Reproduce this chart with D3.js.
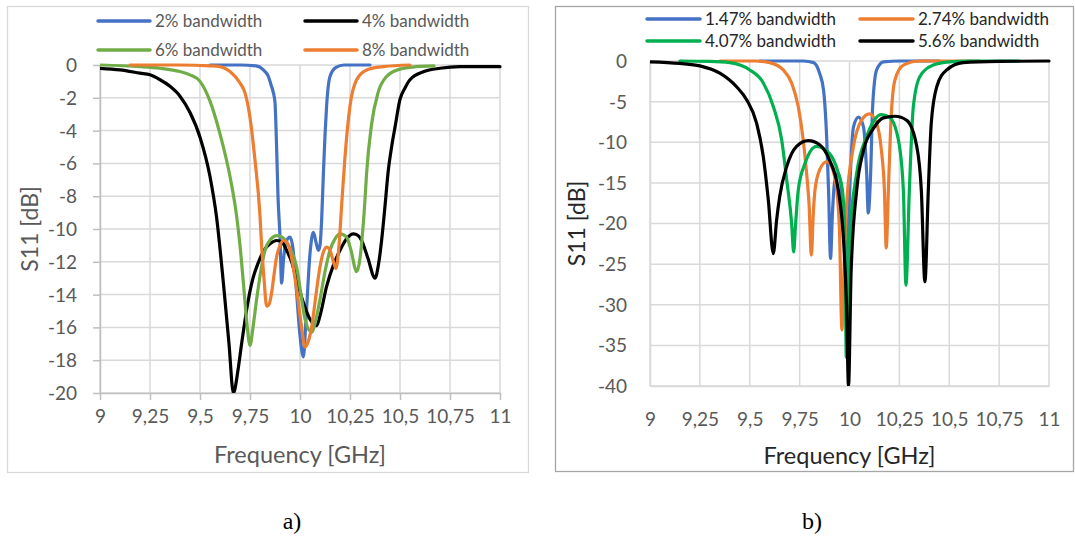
<!DOCTYPE html>
<html>
<head>
<meta charset="utf-8">
<script src="https://cdn.jsdelivr.net/npm/d3@7"></script>
<style>
  body { margin: 0; background: #fff; }
  text { font-family: Lato, "Open Sans", sans-serif; }
  text.caption { font-family: "Liberation Serif", "DejaVu Serif", serif; }
</style>
</head>
<body>
<svg id="chart" width="1075" height="538"></svg>
<script>
// ---- shared axis ticks ----
const freqTicks = [9, 9.25, 9.5, 9.75, 10, 10.25, 10.5, 10.75, 11];
const freqTickLabels = ["9", "9,25", "9,5", "9,75", "10", "10,25", "10,5", "10,75", "11"];
const dbTicksA = [0, -2, -4, -6, -8, -10, -12, -14, -16, -18, -20];
const dbTicksB = [0, -5, -10, -15, -20, -25, -30, -35, -40];

// ---- panel a) : S11 for 2 %, 4 %, 6 %, 8 % bandwidth ----
const namesA = ["2% bandwidth", "4% bandwidth", "6% bandwidth", "8% bandwidth"];

const freqA2 = [9.55, 9.70, 9.78, 9.817, 9.842, 9.855, 9.867, 9.875, 9.883, 9.89, 9.90, 9.908, 9.918, 9.93, 9.95, 9.965, 9.983, 10.0, 10.017, 10.03, 10.05, 10.067, 10.08, 10.092, 10.10, 10.108, 10.117, 10.125, 10.133, 10.15, 10.18, 10.22, 10.35];
const s11A2  = [0, 0, -0.05, -0.3, -0.7, -1.2, -1.7, -2.3, -5.0, -8.0, -10.5, -13.3, -11.8, -10.8, -10.5, -11.2, -13.9, -16.5, -17.8, -15.5, -11.5, -10.2, -10.8, -11.3, -11.0, -9.5, -6.6, -4.3, -2.5, -0.7, -0.15, 0, 0];

const freqA4 = [9.0, 9.1, 9.2, 9.25, 9.3, 9.35, 9.4, 9.45, 9.5, 9.55, 9.583, 9.617, 9.645, 9.667, 9.69, 9.708, 9.742, 9.765, 9.79, 9.82, 9.85, 9.883, 9.91, 9.933, 9.958, 9.983, 10.017, 10.05, 10.083, 10.1, 10.133, 10.167, 10.2, 10.233, 10.267, 10.29, 10.308, 10.34, 10.375, 10.392, 10.408, 10.425, 10.44, 10.458, 10.475, 10.5, 10.525, 10.55, 10.62, 10.7, 10.8, 11.0];
const s11A4  = [-0.2, -0.3, -0.5, -0.6, -0.9, -1.3, -1.9, -2.9, -4.4, -6.8, -9.3, -13.3, -17.0, -20.0, -18.6, -17.0, -14.3, -13.0, -12.1, -11.3, -10.9, -10.7, -10.8, -11.3, -12.0, -13.1, -14.5, -15.5, -15.9, -15.3, -13.5, -12.2, -11.3, -10.6, -10.3, -10.4, -10.7, -11.8, -13.0, -12.2, -10.7, -8.6, -6.6, -5.0, -3.8, -2.1, -1.4, -0.9, -0.4, -0.2, -0.1, -0.1];

const freqA6 = [9.0, 9.2, 9.3, 9.4, 9.45, 9.5, 9.55, 9.6, 9.65, 9.683, 9.7, 9.717, 9.735, 9.75, 9.765, 9.783, 9.805, 9.825, 9.855, 9.883, 9.91, 9.933, 9.958, 9.983, 10.005, 10.025, 10.058, 10.08, 10.1, 10.125, 10.15, 10.175, 10.2, 10.233, 10.255, 10.283, 10.3, 10.308, 10.325, 10.333, 10.358, 10.39, 10.433, 10.5, 10.58, 10.67];
const s11A6  = [0, -0.1, -0.2, -0.4, -0.6, -1.0, -2.2, -4.2, -6.8, -9.2, -11.0, -13.3, -15.8, -17.1, -16.0, -14.3, -12.5, -11.3, -10.6, -10.4, -10.5, -10.8, -11.4, -12.3, -14.0, -15.5, -16.3, -15.5, -14.3, -12.6, -11.3, -10.6, -10.3, -10.5, -11.3, -12.6, -11.8, -10.9, -8.2, -6.6, -3.6, -1.7, -0.7, -0.25, -0.1, -0.05];

const freqA8 = [9.15, 9.4, 9.55, 9.6, 9.65, 9.7, 9.725, 9.75, 9.775, 9.8, 9.808, 9.82, 9.833, 9.845, 9.858, 9.87, 9.883, 9.9, 9.917, 9.933, 9.95, 9.97, 9.99, 10.008, 10.025, 10.04, 10.058, 10.08, 10.1, 10.117, 10.133, 10.15, 10.165, 10.18, 10.195, 10.208, 10.225, 10.25, 10.283, 10.333, 10.417, 10.55];
const s11A8  = [0, 0, -0.05, -0.1, -0.4, -1.1, -1.7, -3.2, -5.8, -9.2, -11.0, -13.0, -14.7, -14.6, -13.9, -12.8, -11.7, -11.0, -10.7, -10.8, -11.3, -12.6, -14.3, -16.0, -17.2, -16.9, -16.0, -14.0, -12.3, -11.4, -11.1, -11.3, -11.9, -12.4, -11.0, -8.6, -5.6, -2.5, -0.9, -0.3, -0.1, 0];

// ---- panel b) : S11 for 1.47 %, 2.74 %, 4.07 %, 5.6 % bandwidth ----
const namesB = ["1.47% bandwidth", "2.74% bandwidth", "4.07% bandwidth", "5.6% bandwidth"];

const freqB147 = [9.55, 9.77, 9.82, 9.85, 9.87, 9.886, 9.895, 9.905, 9.914, 9.925, 9.944, 9.96, 9.975, 9.985, 9.995, 10.005, 10.02, 10.045, 10.07, 10.086, 10.094, 10.106, 10.116, 10.136, 10.17, 10.25, 10.45];
const s11B147  = [0, 0, -0.2, -1.5, -3.6, -9.7, -15.9, -24.3, -19.0, -15.0, -13.8, -16.0, -22.0, -26.0, -20.0, -13.5, -8.1, -6.9, -8.1, -13.8, -18.7, -13.8, -5.6, -1.1, -0.1, 0, 0];

const freqB274 = [9.35, 9.53, 9.6, 9.668, 9.71, 9.743, 9.768, 9.785, 9.797, 9.809, 9.818, 9.827, 9.85, 9.886, 9.91, 9.936, 9.95, 9.962, 9.972, 9.985, 10.02, 10.06, 10.1, 10.136, 10.16, 10.175, 10.184, 10.195, 10.207, 10.228, 10.27, 10.35, 10.65];
const s11B274  = [0, 0, -0.2, -1.1, -2.7, -5.6, -9.7, -13.8, -17.5, -23.9, -19.0, -15.9, -13.4, -12.4, -13.0, -15.9, -21.0, -33.1, -26.0, -17.9, -10.5, -7.3, -6.5, -7.7, -11.0, -15.9, -23.0, -15.9, -7.7, -2.3, -0.5, 0, 0];

const freqB407 = [9.15, 9.3, 9.4, 9.5, 9.568, 9.618, 9.66, 9.685, 9.71, 9.72, 9.73, 9.743, 9.777, 9.835, 9.9, 9.944, 9.965, 9.977, 9.984, 9.992, 10.0, 10.036, 10.086, 10.16, 10.2, 10.245, 10.27, 10.283, 10.3, 10.32, 10.353, 10.42, 10.5, 10.6, 10.85];
const s11B407  = [0, -0.05, -0.2, -1.1, -2.7, -5.6, -9.7, -14.6, -20.0, -23.5, -20.0, -15.9, -12.6, -10.5, -11.4, -13.8, -16.0, -22.0, -36.5, -27.0, -22.0, -13.8, -9.3, -6.6, -6.9, -9.7, -15.9, -27.6, -15.9, -5.6, -1.9, -0.5, -0.1, 0, 0];

const freqB56 = [9.0, 9.15, 9.25, 9.35, 9.435, 9.485, 9.535, 9.568, 9.593, 9.618, 9.635, 9.65, 9.685, 9.735, 9.793, 9.85, 9.9, 9.944, 9.97, 9.985, 9.995, 10.008, 10.036, 10.07, 10.12, 10.17, 10.228, 10.287, 10.337, 10.36, 10.378, 10.395, 10.41, 10.437, 10.487, 10.57, 10.75, 11.0];
const s11B56  = [-0.1, -0.3, -0.6, -1.5, -3.2, -4.8, -7.7, -11.8, -17.1, -23.7, -19.5, -16.7, -13.0, -10.5, -9.8, -10.3, -12.2, -15.9, -22.0, -30.0, -40.0, -26.0, -15.9, -11.0, -8.3, -7.0, -6.8, -7.3, -10.5, -15.9, -27.2, -15.9, -7.6, -3.2, -1.1, -0.2, -0.05, 0];

// ---- drawing ----
const svg = d3.select("#chart");

const zip = (fs, vs) => fs.map((f, i) => ({ f: f, v: vs[i] }));

function drawPanel(p) {
  const g = svg.append("g");

  // outer frame
  g.append("rect")
    .attr("x", p.frame[0] + 0.5).attr("y", p.frame[1] + 0.5)
    .attr("width", p.frame[2] - p.frame[0]).attr("height", p.frame[3] - p.frame[1])
    .attr("fill", "#fff").attr("stroke", p.frameColor).attr("stroke-width", 1.3);

  const x = d3.scaleLinear().domain([9, 11]).range([p.x0, p.x1]);
  const y = d3.scaleLinear().domain([p.yTicks[p.yTicks.length - 1], 0]).range([p.y1, p.y0]);

  // gridlines
  g.append("g").selectAll("line").data(freqTicks).join("line")
    .attr("x1", d => x(d)).attr("x2", d => x(d))
    .attr("y1", p.y0).attr("y2", p.y1)
    .attr("stroke", "#d9d9d9").attr("stroke-width", 1.5);
  g.append("g").selectAll("line").data(p.yTicks).join("line")
    .attr("x1", p.x0).attr("x2", p.x1)
    .attr("y1", d => y(d)).attr("y2", d => y(d))
    .attr("stroke", "#d9d9d9").attr("stroke-width", 1.5);

  // axes
  const xAxis = d3.axisBottom(x).tickValues(freqTicks)
    .tickFormat((d, i) => freqTickLabels[i])
    .tickSize(p.tickLen).tickSizeOuter(0);
  const yAxis = d3.axisLeft(y).tickValues(p.yTicks)
    .tickFormat(d => d === 0 ? "0" : "-" + Math.abs(d))
    .tickSize(p.tickLen).tickSizeOuter(0);

  const gx = g.append("g").attr("transform", `translate(0,${p.y1})`).call(xAxis);
  const gy = g.append("g").attr("transform", `translate(${p.x0},0)`).call(yAxis);
  [gx, gy].forEach(a => {
    a.select(".domain").attr("stroke", p.axisColor).attr("stroke-width", 1.5);
    a.selectAll(".tick line").attr("stroke", p.axisColor).attr("stroke-width", 1.5);
    a.selectAll(".tick text")
      .attr("font-size", 19)
      .attr("fill", "#595959");
  });
  gx.selectAll(".tick text").attr("dy", null)
    .attr("y", p.xLabelBase - p.y1);
  gy.selectAll(".tick text").attr("x", p.yLabelRight - p.x0).attr("dy", "0.34em");

  // curves
  const clipId = "clip" + p.id;
  svg.append("clipPath").attr("id", clipId).append("rect")
    .attr("x", p.x0).attr("y", p.y0 - 4).attr("width", p.x1 - p.x0 + 4).attr("height", p.y1 - p.y0 + 4);

  const line = d3.line().x(d => x(d.f)).y(d => y(d.v)).curve(d3.curveMonotoneX);
  const lines = g.append("g").attr("clip-path", `url(#${clipId})`);
  p.series.forEach(s => {
    lines.append("path").datum(zip(s.f, s.v))
      .attr("d", line).attr("fill", "none")
      .attr("stroke", s.color).attr("stroke-width", 3.2)
      .attr("stroke-linejoin", "round").attr("stroke-linecap", "round");
  });

  // legend (two columns, two rows)
  p.series.forEach((s, i) => {
    const lx = p.legendCols[i % 2], ly = p.legendRows[Math.floor(i / 2)];
    g.append("line").attr("x1", lx).attr("x2", lx + p.swatch)
      .attr("y1", ly).attr("y2", ly)
      .attr("stroke", s.color).attr("stroke-width", 3.5).attr("stroke-linecap", "round");
    g.append("text").attr("x", lx + p.swatch + 5).attr("y", ly).attr("dy", "0.35em")
      .attr("font-size", p.legendSize).attr("fill", p.legendColor).text(s.name);
  });

  // axis titles
  g.append("text").attr("x", (p.x0 + p.x1) / 2).attr("y", p.xTitleBase)
    .attr("text-anchor", "middle").attr("font-size", 23.5).attr("fill", p.titleColor)
    .text("Frequency [GHz]");
  g.append("text")
    .attr("transform", `translate(${p.yTitleX},${(p.y0 + p.y1) / 2}) rotate(-90)`)
    .attr("text-anchor", "middle").attr("dy", "0.35em")
    .attr("font-size", 23).attr("fill", p.titleColor).text("S11 [dB]");
}

drawPanel({
  id: "A", frame: [7, 6, 528, 472], frameColor: "#d9d9d9",
  x0: 100, x1: 500, y0: 65, y1: 393, yTicks: dbTicksA,
  tickLen: 7, axisColor: "#bfbfbf", xLabelBase: 423, yLabelRight: 77,
  xTitleBase: 463, yTitleX: 30, titleColor: "#595959",
  legendCols: [98, 305], legendRows: [21, 50], swatch: 52, legendSize: 17, legendColor: "#595959",
  series: [
    { name: namesA[0], f: freqA2, v: s11A2, color: "#4472c4" },
    { name: namesA[1], f: freqA4, v: s11A4, color: "#000000" },
    { name: namesA[2], f: freqA6, v: s11A6, color: "#70ad47" },
    { name: namesA[3], f: freqA8, v: s11A8, color: "#ed7d31" }
  ]
});

drawPanel({
  id: "B", frame: [555, 6, 1073, 471], frameColor: "#a6a6a6",
  x0: 650, x1: 1049, y0: 61, y1: 386, yTicks: dbTicksB,
  tickLen: 0, axisColor: "#d9d9d9", xLabelBase: 426, yLabelRight: 627,
  xTitleBase: 464, yTitleX: 577, titleColor: "#262626",
  legendCols: [647, 860], legendRows: [19, 41], swatch: 53, legendSize: 17, legendColor: "#262626",
  series: [
    { name: namesB[0], f: freqB147, v: s11B147, color: "#4472c4" },
    { name: namesB[1], f: freqB274, v: s11B274, color: "#ed7d31" },
    { name: namesB[2], f: freqB407, v: s11B407, color: "#00b050" },
    { name: namesB[3], f: freqB56, v: s11B56, color: "#000000" }
  ]
});

// panel captions
svg.append("text").attr("class", "caption").attr("x", 292).attr("y", 529).attr("text-anchor", "middle")
  .attr("font-size", 24).attr("fill", "#000").text("a)");
svg.append("text").attr("class", "caption").attr("x", 812).attr("y", 529).attr("text-anchor", "middle")
  .attr("font-size", 24).attr("fill", "#000").text("b)");
</script>
</body>
</html>
